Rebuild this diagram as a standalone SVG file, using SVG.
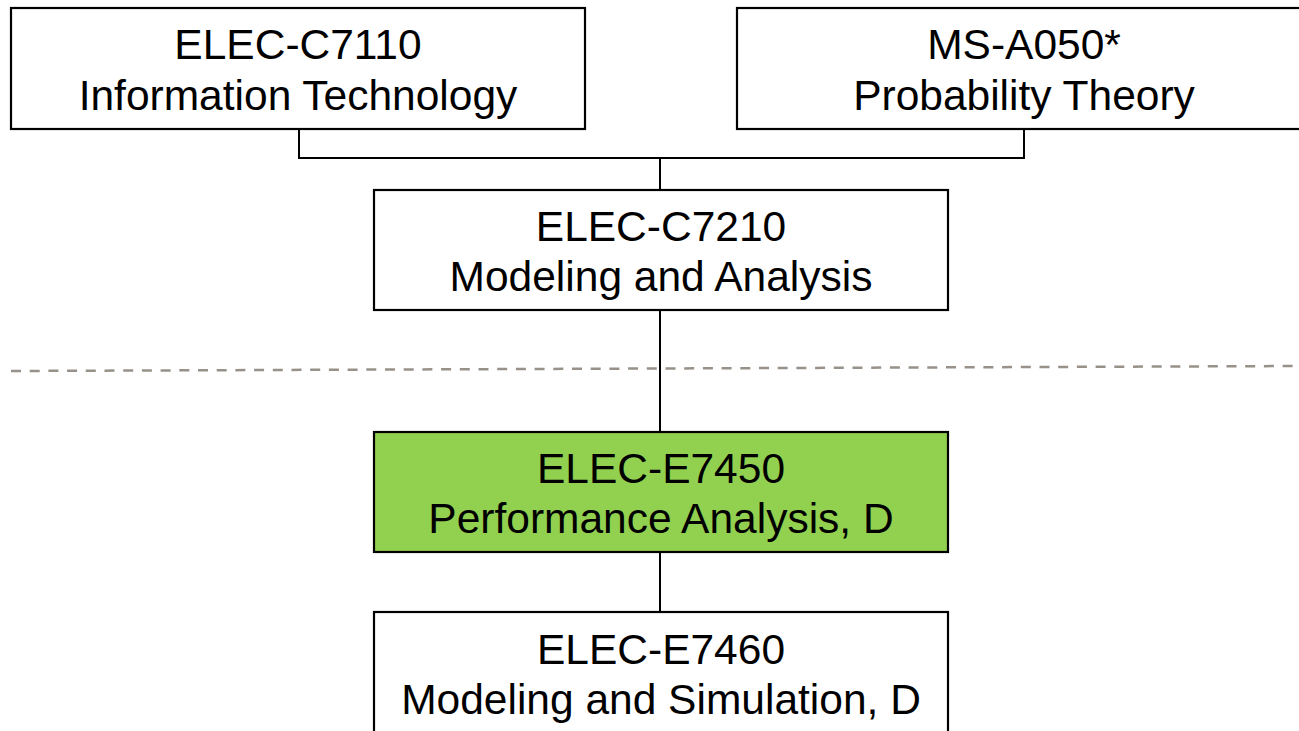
<svg xmlns="http://www.w3.org/2000/svg" width="1299" height="731" viewBox="0 0 1299 731">
<style>
.box{fill:#fff;stroke:#000;stroke-width:2.2}
.hl{fill:#92D050}
.t{font-family:"Liberation Sans",Arial,sans-serif;font-size:42.5px;fill:#000;text-anchor:middle}
.c{fill:none;stroke:#000;stroke-width:2}
.d{stroke:#989189;stroke-width:2.5;stroke-dasharray:10 8.7;fill:none}
</style>
<rect width="1299" height="731" fill="#fff"/>
<g id="connectors">
<polyline class="c" points="299,129 299,158 1024,158 1024,129"/>
<line class="c" x1="660" y1="158" x2="660" y2="190"/>
<line class="c" x1="660" y1="310" x2="660" y2="432"/>
<line class="c" x1="660" y1="552" x2="660" y2="612"/>
</g>
<line id="divider" class="d" x1="11" y1="371" x2="1299" y2="366"/>
<g id="n1">
<rect class="box" x="11" y="8" width="574" height="121"/>
<text class="t" x="298" y="59">ELEC-C7110</text>
<text class="t" x="298" y="110">Information Technology</text>
</g>
<g id="n2">
<rect class="box" x="737" y="8" width="580" height="121"/>
<text class="t" x="1024" y="59">MS-A050*</text>
<text class="t" x="1024" y="110">Probability Theory</text>
</g>
<g id="n3">
<rect class="box" x="374" y="190" width="574" height="120"/>
<text class="t" x="661" y="241">ELEC-C7210</text>
<text class="t" x="661" y="291">Modeling and Analysis</text>
</g>
<g id="n4">
<rect class="box hl" x="374" y="432" width="574" height="120"/>
<text class="t" x="661" y="483">ELEC-E7450</text>
<text class="t" x="661" y="533">Performance Analysis, D</text>
</g>
<g id="n5">
<rect class="box" x="374" y="612" width="574" height="130"/>
<text class="t" x="661" y="664">ELEC-E7460</text>
<text class="t" x="661" y="714">Modeling and Simulation, D</text>
</g>
</svg>
